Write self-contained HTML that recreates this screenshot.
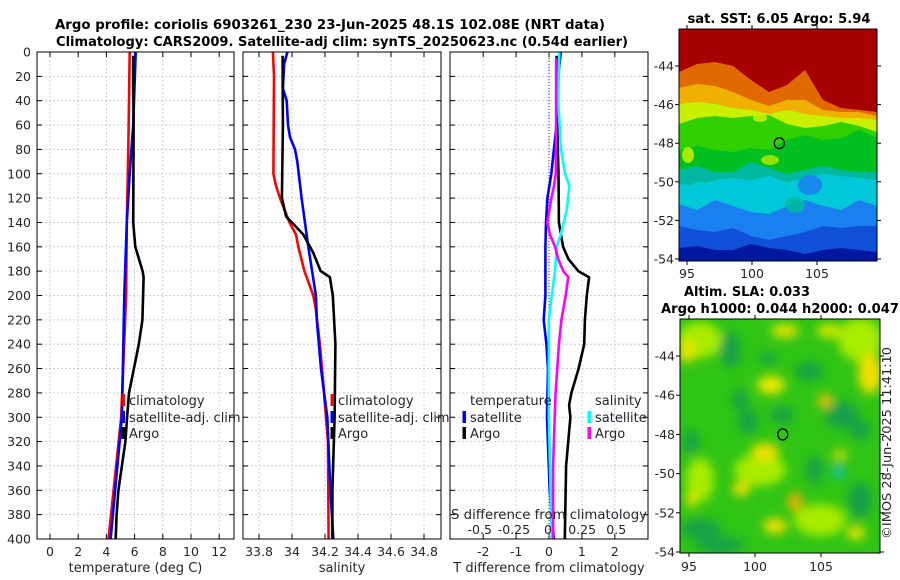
<!DOCTYPE html>
<html><head><meta charset="utf-8">
<style>
html,body{margin:0;padding:0;background:#fff;}
svg{display:block;font-family:"DejaVu Sans","Liberation Sans",sans-serif;}
</style></head>
<body>
<svg id="fig" width="900" height="580" viewBox="0 0 900 580" xmlns="http://www.w3.org/2000/svg">
<defs>
<filter id="blur4" x="-20%" y="-20%" width="140%" height="140%"><feGaussianBlur stdDeviation="5"/></filter>
<clipPath id="clipMap1"><rect x="679" y="29" width="198" height="232"/></clipPath>
<clipPath id="clipMap2"><rect x="680" y="319" width="200" height="234"/></clipPath>
</defs>
<g id="titles">
<text x="330" y="29" text-anchor="middle" font-size="13" font-weight="bold" textLength="550" lengthAdjust="spacingAndGlyphs">Argo profile: coriolis 6903261_230 23-Jun-2025 48.1S 102.08E (NRT data)</text>
<text x="342" y="46" text-anchor="middle" font-size="13" font-weight="bold" textLength="572" lengthAdjust="spacingAndGlyphs">Climatology: CARS2009. Satellite-adj clim: synTS_20250623.nc (0.54d earlier)</text>
<text x="779" y="23" text-anchor="middle" font-size="13" font-weight="bold" textLength="183" lengthAdjust="spacingAndGlyphs">sat. SST: 6.05 Argo: 5.94</text>
<text x="747" y="296" text-anchor="middle" font-size="13" font-weight="bold" textLength="126" lengthAdjust="spacingAndGlyphs">Altim. SLA: 0.033</text>
<text x="780" y="313" text-anchor="middle" font-size="13" font-weight="bold" textLength="238" lengthAdjust="spacingAndGlyphs">Argo h1000: 0.044 h2000: 0.047</text>
<text transform="translate(891,443) rotate(-90)" text-anchor="middle" font-size="12" fill="#262626" textLength="192" lengthAdjust="spacingAndGlyphs">©IMOS 28-Jun-2025 11:41:10</text>
</g>
<g id="maps"></g>
<g id="panels"></g>
</svg>
<script>
// ---------- data ----------
const depthTicks = [0,20,40,60,80,100,120,140,160,180,200,220,240,260,280,300,320,340,360,380,400];
const tempTicks = [0,2,4,6,8,10,12];
const salTicks = [33.8,34,34.2,34.4,34.6,34.8];
const salTickLabels = ["33.8","34","34.2","34.4","34.6","34.8"];
const tdiffTicks = [-2,-1,0,1,2];
const sdiffTicks = [-0.5,-0.25,0,0.25,0.5];
const sdiffTickLabels = ["-0.5","-0.25","0","0.25","0.5"];

const tClimDepth = [0,80,140,200,300,400];
const tClim = [5.65,5.55,5.45,5.4,5.05,4.15];
const tSatDepth = [0,60,100,140,200,300,400];
const tSat = [6.08,5.9,5.65,5.45,5.27,5.1,4.3];
const tArgoDepth = [3,60,140,160,180,185,200,220,240,260,280,300,320,340,360,380,400];
const tArgo = [5.9,5.93,5.9,6.05,6.57,6.64,6.6,6.55,6.3,5.95,5.6,5.47,5.35,5.1,4.85,4.72,4.66];

const sClimDepth = [0,20,100,110,120,140,150,160,180,200,210,240,280,320,400];
const sClim = [33.884,33.891,33.887,33.903,33.927,33.984,34.024,34.038,34.075,34.129,34.143,34.169,34.194,34.218,34.222];
const sSatDepth = [0,10,30,40,60,70,80,90,120,160,200,220,260,300,360,400];
const sSat = [33.972,33.952,33.945,33.968,33.976,33.988,34.018,34.032,34.058,34.099,34.145,34.15,34.176,34.214,34.233,34.25];
const sArgoDepth = [3,60,120,135,150,165,180,185,200,240,300,360,400];
const sArgo = [33.943,33.945,33.939,33.964,34.069,34.129,34.174,34.23,34.247,34.263,34.258,34.245,34.245];

const dtSatDepth = [0,20,60,80,100,120,140,160,180,200,220,240,260,300,360,400];
const dtSat = [0.36,0.28,0.23,0.15,0.07,-0.05,-0.09,-0.11,-0.11,-0.11,-0.16,-0.08,-0.03,-0.06,0.02,0.15];
const dtArgoDepth = [3,60,100,140,160,170,180,185,200,220,240,260,280,290,300,340,400];
const dtArgo = [0.23,0.25,0.29,0.3,0.43,0.59,0.89,1.22,1.15,1.09,1.07,0.9,0.68,0.61,0.65,0.52,0.48];
const dsSatDepth = [0,40,80,100,110,130,150,160,180,200,220,300,400];
const dsSat = [0.083,0.075,0.095,0.125,0.157,0.137,0.093,0.064,0.051,0.027,0.006,0.006,0.028];
const dsArgoDepth = [5,60,100,110,120,140,150,160,170,180,185,200,220,240,280,300,340,400];
const dsArgo = [0.059,0.059,0.057,0.044,0.025,-0.005,0.015,0.051,0.075,0.112,0.149,0.13,0.098,0.08,0.056,0.049,0.037,0.037];

const latTicks = [-44,-46,-48,-50,-52,-54];
const lonTicks = [95,100,105];
const argoLon = 102.1, argoLat = -48.0;

// ---------- helpers ----------
const NS = "http://www.w3.org/2000/svg";
function mk(tag, attrs, parent){const e=document.createElementNS(NS,tag);for(const k in attrs)e.setAttribute(k,attrs[k]);if(parent)parent.appendChild(e);return e;}
const yTop=52, yBot=539;
const yD = d => yTop + d*(yBot-yTop)/400;
const panels = document.getElementById('panels');

function axisFrame(x0,x1,xticks,xs,labels,name,title){
  const g = mk('g',{},panels);
  
  
  depthTicks.forEach(d=>{ if(d>0&&d<400){ mk('line',{x1:x0,x2:x1,y1:yD(d),y2:yD(d),stroke:'#c0c4e4','stroke-width':0.8,'stroke-dasharray':'2,2'},g);} });
  xticks.forEach(v=>{ const x=xs(v); mk('line',{x1:x,x2:x,y1:yTop,y2:yBot,stroke:'#c0c4e4','stroke-width':0.8,'stroke-dasharray':'2,2'},g);});
  depthTicks.forEach(d=>{ mk('line',{x1:x0,x2:x0+5,y1:yD(d),y2:yD(d),stroke:'#000'},g); mk('line',{x1:x1-5,x2:x1,y1:yD(d),y2:yD(d),stroke:'#000'},g);});
  xticks.forEach((v,i)=>{ const x=xs(v);
    mk('line',{x1:x,x2:x,y1:yBot-5,y2:yBot,stroke:'#000'},g);
    mk('line',{x1:x,x2:x,y1:yTop,y2:yTop+5,stroke:'#000'},g);
    const t=mk('text',{x:x,y:556,'text-anchor':'middle','font-size':12.5,fill:'#262626'},g);
    
    
    t.textContent=labels[i];
  });
  const tt=mk('text',{x:(x0+x1)/2,y:572,'text-anchor':'middle','font-size':13,fill:'#262626'},g);
  
  
  tt.textContent=title;
  return g;
}
function frameBox(g,x0,x1){ mk('rect',{x:x0,y:yTop,width:x1-x0,height:yBot-yTop,fill:'none',stroke:'#000','stroke-width':1},g); }
function line(g,xs,vals,depths,color,name){
  const pts = vals.map((v,i)=>xs(v).toFixed(1)+','+yD(depths[i]).toFixed(1)).join(' ');
  const p=mk('polyline',{points:pts,fill:'none',stroke:color,'stroke-width':2.6,'stroke-linejoin':'round'},g);
  
  
}
function legend(g,x,y,color,label,name){
  mk('rect',{x:x-1.5,y:y-7,width:3.5,height:12,fill:color},g);
  const t=mk('text',{x:x+6,y:y+4,'font-size':13,fill:'#262626'},g);
  
  
  t.textContent=label;
}

// Panel 1: temperature
const xT = t => 50 + t*14.1;
const g1 = axisFrame(37,234,tempTicks,xT,tempTicks.map(String),'temperature-panel','temperature (deg C)');
depthTicks.forEach(d=>{const t=mk('text',{x:31,y:yD(d)+4.5,'text-anchor':'end','font-size':12.5,fill:'#262626'},g1);
  
  
  t.textContent=d;});
line(g1,xT,tClim,tClimDepth,'#ff0000','temp-climatology-line');
line(g1,xT,tSat,tSatDepth,'#0000ff','temp-satellite-line');
line(g1,xT,tArgo,tArgoDepth,'#000000','temp-argo-line');
frameBox(g1,37,234);
legend(g1,123,401,'#ff0000','climatology','legend-climatology');
legend(g1,123,418,'#0000ff','satellite-adj. clim','legend-satellite-adj');
legend(g1,123,434,'#000000','Argo','legend-argo');

// Panel 2: salinity
const xS = s => 259 + (s-33.8)*165;
const g2 = axisFrame(243,441,salTicks,xS,salTickLabels,'salinity-panel','salinity');
line(g2,xS,sClim,sClimDepth,'#ff0000','sal-climatology-line');
line(g2,xS,sSat,sSatDepth,'#0000ff','sal-satellite-line');
line(g2,xS,sArgo,sArgoDepth,'#000000','sal-argo-line');
frameBox(g2,243,441);
legend(g2,332,401,'#ff0000','climatology','legend-climatology');
legend(g2,332,418,'#0000ff','satellite-adj. clim','legend-satellite-adj');
legend(g2,332,434,'#000000','Argo','legend-argo');

// Panel 3: differences
const xDT = v => 549 + v*32.9;
const xDS = v => 548 + v*136.5;
const g3 = axisFrame(450,648,tdiffTicks,xDT,tdiffTicks.map(String),'difference-panel','T difference from climatology');
mk('line',{x1:xDT(0),x2:xDT(0),y1:yTop,y2:yBot,stroke:'#333','stroke-width':1,'stroke-dasharray':'1,2'},g3);
line(g3,xDT,dtSat,dtSatDepth,'#0000ff','tdiff-satellite-line');
line(g3,xDT,dtArgo,dtArgoDepth,'#000000','tdiff-argo-line');
line(g3,xDS,dsSat,dsSatDepth,'#00ffff','sdiff-satellite-line');
line(g3,xDS,dsArgo,dsArgoDepth,'#ff00ff','sdiff-argo-line');
frameBox(g3,450,648);
{const t=mk('text',{x:470,y:405,'font-size':13,fill:'#262626'},g3);t.textContent='temperature';}
{const t=mk('text',{x:595,y:405,'font-size':13,fill:'#262626'},g3);t.textContent='salinity';}
legend(g3,464,418,'#0000ff','satellite','legend-t-satellite');
legend(g3,464,434,'#000000','Argo','legend-t-argo');
legend(g3,589,418,'#00ffff','satellite','legend-s-satellite');
legend(g3,589,434,'#ff00ff','Argo','legend-s-argo');
{const t=mk('text',{x:549,y:519,'text-anchor':'middle','font-size':13,fill:'#262626',textLength:196,lengthAdjust:'spacingAndGlyphs'},g3);t.textContent='S difference from climatology';}
sdiffTicks.forEach((v,i)=>{const t=mk('text',{x:xDS(v),y:534,'text-anchor':'middle','font-size':12.5,fill:'#262626'},g3);
  
  
  t.textContent=sdiffTickLabels[i];});

// ---------- maps ----------
const maps = document.getElementById('maps');
function mapAxes(g,x0,x1,y0,y1,lonS,latS,labelY){
  latTicks.forEach(v=>{const y=latS(v); if(y<y0-1||y>y1+1)return;
    mk('line',{x1:x0-4,x2:x0,y1:y,y2:y,stroke:'#000'},g); mk('line',{x1:x1,x2:x1+4,y1:y,y2:y,stroke:'#000'},g);
    const t=mk('text',{x:x0-5,y:y+4.5,'text-anchor':'end','font-size':12.5,fill:'#262626'},g);
    
    
    t.textContent=v;});
  lonTicks.forEach(v=>{const x=lonS(v);
    mk('line',{x1:x,x2:x,y1:y1,y2:y1+4,stroke:'#000'},g); mk('line',{x1:x,x2:x,y1:y0-4,y2:y0,stroke:'#000'},g);
    const t=mk('text',{x:x,y:labelY,'text-anchor':'middle','font-size':12.5,fill:'#262626'},g);
    
    
    t.textContent=v;});
}
// SST map
const lon1 = v => 687 + (v-95)*13;
const lat1 = v => 66 + (-44 - v)*19.3;
const gm1 = mk('g',{},maps);


const gm1c = mk('g',{'clip-path':'url(#clipMap1)'},gm1);
mk('rect',{x:679,y:29,width:198,height:232,fill:'#a80000'},gm1c);
const bands = [
 ['#e06a00',[72,64,62,66,80,92,85,70,100,108,110,112]],
 ['#f0b000',[88,84,86,92,100,106,100,100,110,112,112,116]],
 ['#c8f000',[104,102,104,108,110,114,110,114,116,118,118,120]],
 ['#30d000',[124,118,116,118,116,115,124,128,126,122,126,132]],
 ['#00c020',[150,146,150,152,148,150,140,135,140,138,130,138]],
 ['#00b8a0',[170,166,172,172,162,168,174,170,166,170,172,172]],
 ['#00c8d8',[184,186,180,178,180,176,182,178,174,176,178,180]],
 ['#1a80f0',[204,210,200,206,212,214,206,200,206,210,200,206]],
 ['#1050d8',[226,230,232,228,236,240,236,232,226,228,226,226]],
 ['#0018a0',[248,246,250,250,244,248,250,254,250,248,250,252]]
];
bands.forEach(b=>{
  const pts = b[1].map((y,i)=>(679+i*18)+','+y).join(' ');
  mk('polygon',{points:pts+' 877,262 679,262',fill:b[0]},gm1c);
});
[['#30d000',712,128,14,8],['#c8f000',688,155,6,8],['#a8e800',770,160,9,5],['#00c8d8',700,190,12,8],['#1a80f0',810,185,12,10],['#00b8a0',795,205,10,8],['#c8f000',760,118,7,4]].forEach(p=>{
  mk('ellipse',{cx:p[1],cy:p[2],rx:p[3],ry:p[4],fill:p[0],opacity:0.85},gm1c);
});
mk('rect',{x:679,y:29,width:198,height:232,fill:'none',stroke:'#000'},gm1);
mapAxes(gm1,679,877,29,261,lon1,lat1,278);
{const c=mk('ellipse',{cx:lon1(argoLon),cy:lat1(argoLat),rx:5,ry:5.5,fill:'none',stroke:'#000','stroke-width':1.3},gm1);}

// SLA map
const lon2 = v => 689 + (v-95)*13.2;
const lat2 = v => 356 + (-44 - v)*19.6;
const gm2 = mk('g',{},maps);


const gm2c = mk('g',{'clip-path':'url(#clipMap2)'},gm2);
mk('rect',{x:680,y:319,width:200,height:234,fill:'#30c414'},gm2c);
const gb = mk('g',{filter:'url(#blur4)'},gm2c);
const blobs = [
 ['#a8ec00',700,340,22,18],['#a8ec00',860,340,22,22],['#a8ec00',760,470,26,16],['#a8ec00',820,520,26,16],['#a8ec00',700,480,14,22],
 ['#e8e400',687,351,9,12],['#eeea00',771,385,14,9],['#f0c000',825,401,7,7],['#f0e000',870,374,12,20],['#eee000',765,452,14,9],
 ['#eee000',741,489,9,7],['#eeb000',795,502,7,10],['#eee000',775,526,12,8],['#e8e400',856,533,9,7],['#e8e800',691,499,5,9],
 ['#e0e400',785,331,14,7],['#d8e800',829,331,12,7],['#e8e000',840,455,7,5],
 ['#18a048',809,371,14,9],['#18a048',782,415,12,8],['#18a048',748,422,10,12],['#18a048',842,415,16,14],['#18a048',701,529,20,10],
 ['#10c0c8',839,472,6,6],['#18a048',768,358,8,6],['#18a048',691,442,8,12],['#18a048',730,350,10,18],['#18a048',860,500,12,18],['#18a048',720,545,25,8],
 ['#18a048',740,400,8,10],['#18a048',815,470,8,14],['#18a048',860,430,10,10]
];
blobs.forEach(b=>mk('ellipse',{cx:b[1],cy:b[2],rx:b[3],ry:b[4],fill:b[0]},gb));
mk('rect',{x:680,y:319,width:200,height:234,fill:'none',stroke:'#000'},gm2);
mapAxes(gm2,680,880,319,553,lon2,lat2,571);
{const c=mk('ellipse',{cx:lon2(argoLon),cy:lat2(argoLat),rx:5,ry:5.5,fill:'none',stroke:'#000','stroke-width':1.3},gm2);}
</script>
</body></html>
